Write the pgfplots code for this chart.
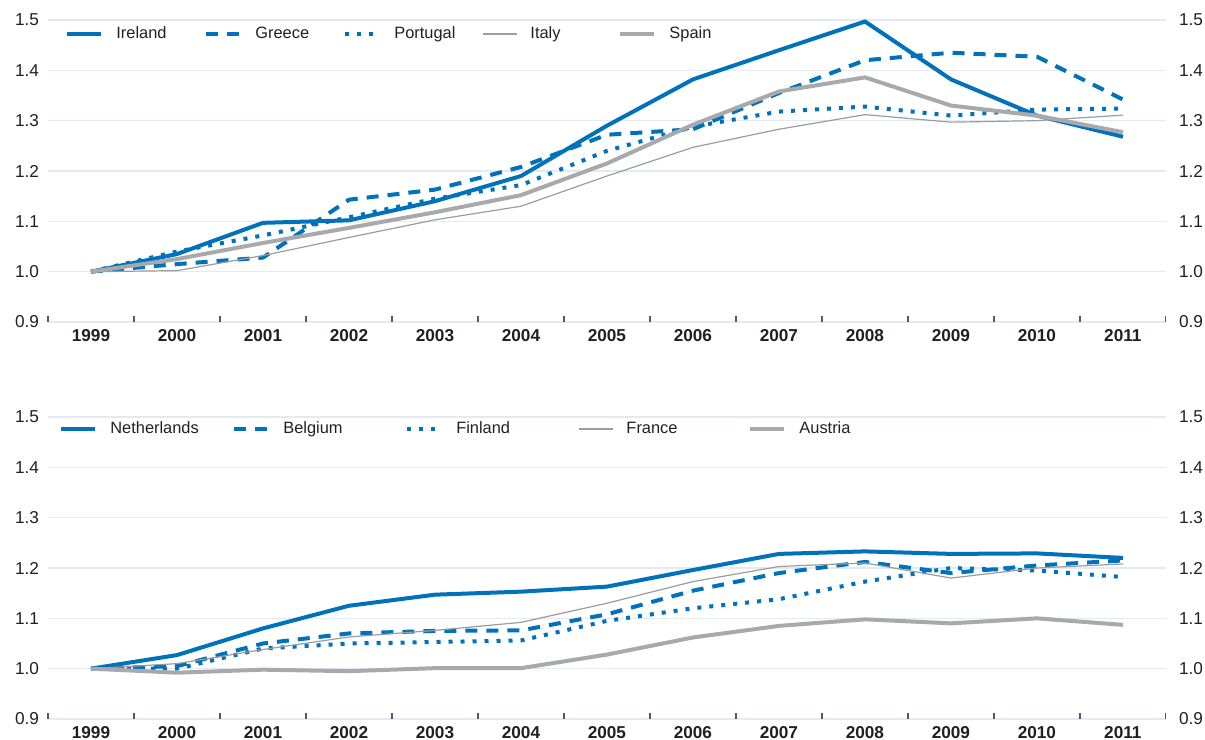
\documentclass[border=0pt]{standalone}
\usepackage{pgfplots}
\pgfplotsset{compat=1.18}
\usepackage{fontspec}
\setmainfont{Liberation Sans}

\definecolor{oblue}{HTML}{0072BC}
\definecolor{ogreyk}{HTML}{A7A9AC}
\definecolor{ogreyt}{HTML}{9A9C9F}
\definecolor{ogrid}{HTML}{E4E9F2}
\definecolor{otext}{HTML}{231F20}

\pgfplotsset{
  panel/.style={
    scale only axis,
    width=559bp, height=151bp,
    xmin=1998.5, xmax=2011.5,
    ymin=0.9, ymax=1.5,
    axis line style={draw=none},
    xtick={1999,...,2011},
    minor xtick={1998.5,1999.5,...,2011.5},
    major tick length=0pt,
    minor tick length=3bp,
    tick align=inside,
    xtick pos=bottom,
    ytick={0.9,1.0,...,1.5},
    ytick pos=left,
    ymajorgrids,
    grid style={ogrid, line width=0.8bp},
    minor tick style={draw=black!65, line width=0.6bp},
    tick label style={font=\fontsize{8.6bp}{10bp}\selectfont, text=otext},
    xticklabel style={font=\fontsize{8.6bp}{10bp}\selectfont\bfseries, inner ysep=1.5bp, yshift=-2bp},
    yticklabel style={xshift=-1bp},
    /pgf/number format/assume math mode=true,
    x tick label style={/pgf/number format/1000 sep={}},
    y tick label style={/pgf/number format/.cd, fixed, fixed zerofill, precision=1},
    legend columns=5,
    legend style={draw=none, fill=none, anchor=north west,
      font=\fontsize{8.2bp}{10bp}\selectfont, text=otext,
      inner xsep=0pt, inner ysep=0pt},
    legend image code/.code={\draw[##1] (0bp,0bp) -- (17bp,0bp);},
    /tikz/every odd column/.style={column sep=4.5bp},
    /tikz/every even column/.style={column sep=6bp},
  },
  thickblue/.style={oblue, line width=2bp},
  dashblue/.style={oblue, line width=2bp, dash pattern=on 6bp off 4.5bp},
  dotblue/.style={oblue, line width=2bp, dash pattern=on 2bp off 4bp},
  thingrey/.style={ogreyt, line width=0.6bp},
  thickgrey/.style={ogreyk, line width=2bp},
  rightlabels/.style={
    scale only axis,
    width=559bp, height=151bp,
    xmin=1998.5, xmax=2011.5,
    ymin=0.9, ymax=1.5,
    axis line style={draw=none},
    xtick=\empty,
    ytick={0.9,1.0,...,1.5},
    ytick pos=right,
    yticklabel pos=right,
    major tick length=0pt,
    tick label style={font=\fontsize{8.6bp}{10bp}\selectfont, text=otext},
    yticklabel style={xshift=3bp},
    /pgf/number format/assume math mode=true,
    y tick label style={/pgf/number format/.cd, fixed, fixed zerofill, precision=1},
  },
}

\begin{document}
\begin{tikzpicture}
\path[use as bounding box] (-24bp,-209bp) rectangle (578.5bp,161bp);

% upper panel
\begin{axis}[panel, at={(0bp,0bp)}, anchor=south west,
  legend style={at={(8.5bp,144bp)}, anchor=west},
  legend style={nodes={text width=36bp, align=left}}]
\addplot[thickblue] coordinates {(1999,1.000) (2000,1.035) (2001,1.097) (2002,1.102) (2003,1.140) (2004,1.190) (2005,1.290) (2006,1.382) (2007,1.440) (2008,1.497) (2009,1.382) (2010,1.310) (2011,1.268)};
\addlegendentry{Ireland}
\addplot[dashblue] coordinates {(1999,1.000) (2000,1.015) (2001,1.028) (2002,1.143) (2003,1.163) (2004,1.208) (2005,1.272) (2006,1.283) (2007,1.355) (2008,1.420) (2009,1.435) (2010,1.427) (2011,1.342)};
\addlegendentry{Greece}
\addplot[dotblue] coordinates {(1999,1.000) (2000,1.040) (2001,1.072) (2002,1.108) (2003,1.145) (2004,1.172) (2005,1.240) (2006,1.288) (2007,1.318) (2008,1.328) (2009,1.310) (2010,1.322) (2011,1.324)};
\addlegendentry{Portugal}
\addplot[thingrey] coordinates {(1999,1.000) (2000,1.002) (2001,1.032) (2002,1.068) (2003,1.103) (2004,1.130) (2005,1.190) (2006,1.247) (2007,1.283) (2008,1.312) (2009,1.297) (2010,1.300) (2011,1.311)};
\addlegendentry{Italy}
\addplot[thickgrey] coordinates {(1999,1.000) (2000,1.025) (2001,1.057) (2002,1.087) (2003,1.118) (2004,1.152) (2005,1.215) (2006,1.292) (2007,1.358) (2008,1.386) (2009,1.330) (2010,1.310) (2011,1.277)};
\addlegendentry{Spain}
\end{axis}
\begin{axis}[rightlabels, at={(0bp,0bp)}, anchor=south west]
\end{axis}

% lower panel
\begin{axis}[panel, at={(0bp,-198.5bp)}, anchor=south west,
  legend style={at={(5.5bp,145bp)}, anchor=west},
  legend style={nodes={text width=53bp, align=left}}]
\addplot[thickblue] coordinates {(1999,1.000) (2000,1.027) (2001,1.080) (2002,1.125) (2003,1.147) (2004,1.153) (2005,1.163) (2006,1.196) (2007,1.228) (2008,1.233) (2009,1.228) (2010,1.229) (2011,1.220)};
\addlegendentry{Netherlands}
\addplot[dashblue] coordinates {(1999,1.000) (2000,1.005) (2001,1.050) (2002,1.070) (2003,1.075) (2004,1.076) (2005,1.108) (2006,1.155) (2007,1.190) (2008,1.212) (2009,1.190) (2010,1.205) (2011,1.215)};
\addlegendentry{Belgium}
\addplot[dotblue] coordinates {(1999,1.000) (2000,1.000) (2001,1.040) (2002,1.050) (2003,1.053) (2004,1.056) (2005,1.095) (2006,1.120) (2007,1.138) (2008,1.173) (2009,1.200) (2010,1.195) (2011,1.182)};
\addlegendentry{Finland}
\addplot[thingrey] coordinates {(1999,1.000) (2000,1.010) (2001,1.038) (2002,1.063) (2003,1.076) (2004,1.092) (2005,1.130) (2006,1.173) (2007,1.203) (2008,1.210) (2009,1.180) (2010,1.200) (2011,1.208)};
\addlegendentry{France}
\addplot[thickgrey] coordinates {(1999,1.000) (2000,0.992) (2001,0.998) (2002,0.995) (2003,1.001) (2004,1.001) (2005,1.028) (2006,1.062) (2007,1.085) (2008,1.098) (2009,1.090) (2010,1.100) (2011,1.087)};
\addlegendentry{Austria}
\end{axis}
\begin{axis}[rightlabels, at={(0bp,-198.5bp)}, anchor=south west]
\end{axis}
\end{tikzpicture}
\end{document}
